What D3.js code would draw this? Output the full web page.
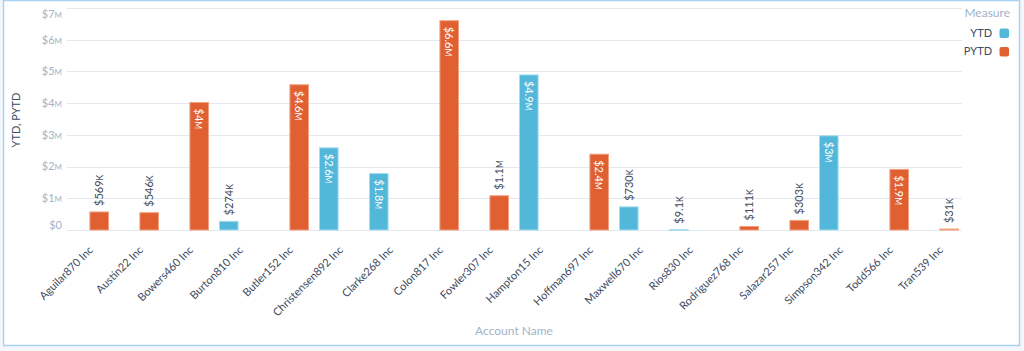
<!DOCTYPE html>
<html>
<head>
<meta charset="utf-8">
<script src="https://cdn.jsdelivr.net/npm/d3@7"></script>
<style>
  body { margin: 0; background: #f4f6f9; }
  svg { display: block; font-family: Lato, "Open Sans", sans-serif; }
</style>
</head>
<body>
<svg id="chart"></svg>
<script>
let w = 1024;
let h = 351;

// data
const accounts = ['Aguilar870 Inc', 'Austin22 Inc', 'Bowers460 Inc', 'Burton810 Inc', 'Butler152 Inc',
  'Christensen892 Inc', 'Clarke268 Inc', 'Colon817 Inc', 'Fowler307 Inc', 'Hampton15 Inc',
  'Hoffman697 Inc', 'Maxwell670 Inc', 'Rios830 Inc', 'Rodriguez768 Inc', 'Salazar257 Inc',
  'Simpson342 Inc', 'Todd566 Inc', 'Tran539 Inc'];
const ytd = [null, null, null, 274000, null, 2590000, 1780000, null, null, 4890000,
  null, 730000, 9100, null, null, 2970000, null, null];
const pytd = [569000, 546000, 4020000, null, 4580000, null, null, 6600000, 1080000, null,
  2390000, null, null, 111000, 303000, null, 1910000, 31000];
const measures = ['YTD', 'PYTD'];
const measureColors = ['#52b7d8', '#e16032'];
const yTicks = [0, 1e6, 2e6, 3e6, 4e6, 5e6, 6e6, 7e6];

const chart = d3.select('#chart')
  .attr('width', w)
  .attr('height', h);

// panel
chart.append('rect')
  .attr('x', 3.5).attr('y', 0.5)
  .attr('width', 1016).attr('height', 345)
  .attr('fill', '#fff')
  .attr('stroke', '#a9d1f5')
  .attr('stroke-width', 1.5);

const xScale = d3.scaleBand()
  .domain(accounts)
  .range([64, 964])
  .paddingInner(0.2)
  .paddingOuter(0.1);

const xInner = d3.scaleBand()
  .domain(measures)
  .range([0, xScale.bandwidth()])
  .paddingInner(0.04);

const yScale = d3.scaleLinear()
  .domain([0, 7e6])
  .range([230, 8]);

const cScale = d3.scaleOrdinal().domain(measures).range(measureColors);

// value formatting like $4.6M, $569K, $9.1K
const fmtParts = v => {
  const s = v >= 1e6 ? d3.format('.2~s')(v) : v >= 1e5 ? d3.format('.3~s')(v) : d3.format('.2~s')(v);
  const suffix = s.slice(-1);
  return /[a-zA-Z]/.test(suffix) ? ['$' + s.slice(0, -1), suffix.toUpperCase()] : ['$' + s, ''];
};
const addLabel = (sel, v, small) => {
  const p = fmtParts(v);
  sel.append('tspan').text(p[0]);
  if (p[1]) sel.append('tspan').attr('font-size', small).text(p[1]);
};

// grid
chart.append('g')
  .selectAll('line')
  .data(yTicks)
  .join('line')
  .attr('x1', 67).attr('x2', 962)
  .attr('y1', d => Math.round(yScale(d)) + 0.5)
  .attr('y2', d => Math.round(yScale(d)) + 0.5)
  .attr('stroke', '#e4e9ef')
  .attr('stroke-width', 1);

// y tick labels (end labels kept inside the plot)
chart.append('g')
  .selectAll('text')
  .data(yTicks)
  .join('text')
  .attr('x', 62)
  .attr('y', d => Math.min(225, Math.max(14.5, yScale(d))))
  .attr('dy', '0.35em')
  .attr('text-anchor', 'end')
  .attr('font-size', 11)
  .attr('fill', '#a3b3c6')
  .each(function(d) { addLabel(d3.select(this), d, 8); });

// y title
chart.append('text')
  .attr('transform', 'translate(20,120) rotate(-90)')
  .attr('text-anchor', 'middle')
  .attr('font-size', 11)
  .attr('fill', '#3e4a5e')
  .text('YTD, PYTD');

// bars
const rows = [];
accounts.forEach((a, i) => {
  if (ytd[i] != null) rows.push({ account: a, measure: 'YTD', value: ytd[i] });
  if (pytd[i] != null) rows.push({ account: a, measure: 'PYTD', value: pytd[i] });
});

const barColorsLight = { YTD: '#a6dcee', PYTD: '#f2a07f' };

chart.append('g')
  .selectAll('rect')
  .data(rows)
  .join('rect')
  .attr('x', d => xScale(d.account) + xInner(d.measure) + 0.5)
  .attr('y', d => yScale(d.value))
  .attr('width', xInner.bandwidth() - 1)
  .attr('height', d => Math.max(0.8, yScale(0) - yScale(d.value)))
  .attr('fill', d => cScale(d.measure))
  .attr('stroke', d => barColorsLight[d.measure])
  .attr('stroke-width', 1);

// value labels
chart.append('g')
  .selectAll('text')
  .data(rows)
  .join('text')
  .attr('font-size', 11)
  .each(function(d) {
    const t = d3.select(this);
    const cx = xScale(d.account) + xInner(d.measure) + xInner.bandwidth() / 2;
    const top = yScale(d.value);
    const inside = yScale(0) - top > 45;
    addLabel(t, d.value, 8.5);
    if (inside) {
      t.attr('transform', `translate(${cx},${top + 6}) rotate(90)`)
        .attr('text-anchor', 'start')
        .attr('dy', '0.35em')
        .attr('fill', '#fff');
    } else {
      t.attr('transform', `translate(${cx},${top - 6}) rotate(-90)`)
        .attr('text-anchor', 'start')
        .attr('dy', '0.35em')
        .attr('fill', '#3e4a5e');
    }
  });

// x tick labels
chart.append('g')
  .selectAll('text')
  .data(accounts)
  .join('text')
  .attr('transform', d => `translate(${xScale(d) + xScale.bandwidth() / 2 + 2},${248}) rotate(-45)`)
  .attr('text-anchor', 'end')
  .attr('dy', '0.35em')
  .attr('font-size', 11)
  .attr('fill', '#3e4a5e')
  .text(d => d);

// x title
chart.append('text')
  .attr('x', 514)
  .attr('y', 335)
  .attr('text-anchor', 'middle')
  .attr('font-size', 12)
  .attr('fill', '#a3b3c6')
  .text('Account Name');

// legend
const legend = chart.append('g')
  .attr('font-size', 11);

legend.append('text')
  .attr('x', 1010)
  .attr('y', 17)
  .attr('text-anchor', 'end')
  .attr('font-size', 12)
  .attr('fill', '#a3b3c6')
  .text('Measure');

measures.forEach((m, i) => {
  legend.append('rect')
    .attr('x', 999.5)
    .attr('y', 28.5 + i * 18.5)
    .attr('width', 9.5)
    .attr('height', 9.5)
    .attr('rx', 2)
    .attr('fill', cScale(m));
  legend.append('text')
    .attr('x', 992)
    .attr('y', 33 + i * 18.5)
    .attr('dy', '0.35em')
    .attr('text-anchor', 'end')
    .attr('fill', '#3e4a5e')
    .text(m);
});
</script>
</body>
</html>
